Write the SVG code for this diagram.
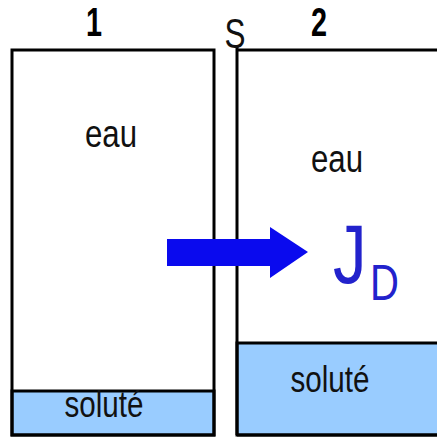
<svg xmlns="http://www.w3.org/2000/svg" width="437" height="437" viewBox="0 0 437 437">
  <style>
    .wall { fill: none; stroke: #000; stroke-width: 3; }
    .solute { fill: #99ccff; stroke: #000; stroke-width: 3; }
    .lbl { font-family: "Liberation Sans", Arial, sans-serif; fill: #111; text-anchor: middle; }
    .num { font-family: "Liberation Sans", Arial, sans-serif; font-weight: bold; fill: #000; text-anchor: middle; font-size: 40px; }
    .flux { font-family: "Liberation Sans", Arial, sans-serif; fill: #2222cc; }
  </style>
  <rect width="437" height="437" fill="#fff"/>

  <!-- compartment 1: water over a thin solute layer -->
  <g id="compartment1">
    <rect class="solute" x="12" y="391" width="202" height="44"/>
    <rect class="wall" x="12" y="50" width="202" height="385"/>
    <text class="num" transform="translate(94,36) scale(0.72,1)">1</text>
    <text class="lbl" font-size="39" transform="translate(111,147) scale(0.8,1)">eau</text>
    <text class="lbl" font-size="37" fill="#1a1a33" transform="translate(104,417) scale(0.8,1)">soluté</text>
  </g>

  <!-- compartment 2: thicker solute layer -->
  <g id="compartment2">
    <rect class="solute" x="237" y="343" width="210" height="92"/>
    <path class="wall" d="M237,50 H440"/>
    <path class="wall" d="M237,435 H440"/>
    <text class="num" transform="translate(319,36) scale(0.72,1)">2</text>
    <text class="lbl" font-size="39" transform="translate(337,172) scale(0.8,1)">eau</text>
    <text class="lbl" font-size="37" fill="#1a1a33" transform="translate(330,392) scale(0.8,1)">soluté</text>
  </g>

  <!-- membrane S -->
  <g id="membrane">
    <path class="wall" d="M237,46 V435"/>
    <text class="lbl" font-size="42" fill="#000" transform="translate(235,48) scale(0.75,1)">S</text>
  </g>

  <!-- diffusion flux arrow -->
  <g id="connectors">
    <polygon fill="#0a0aee" points="167,239 270,239 270,227 308,252 270,278 270,266 167,266"/>
    <text class="flux" font-size="84" transform="translate(333,283) scale(0.8,1)">J</text>
    <text class="flux" font-size="50" transform="translate(370,300) scale(0.8,1)">D</text>
  </g>
</svg>
